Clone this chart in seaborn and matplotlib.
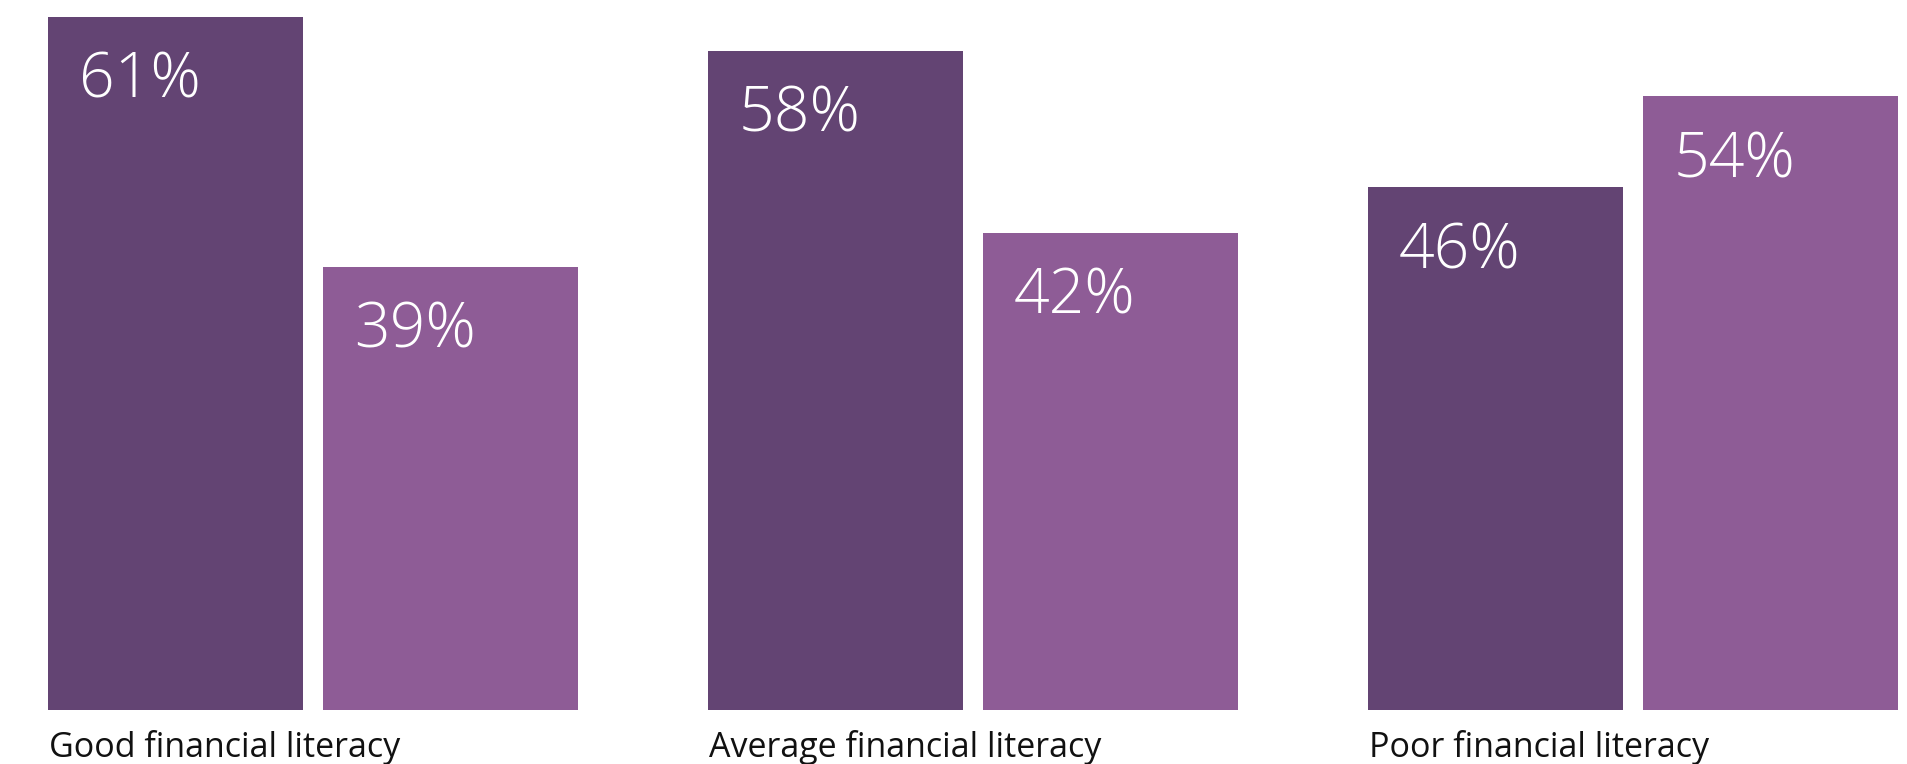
import matplotlib
matplotlib.use("Agg")
import matplotlib.pyplot as plt
import seaborn as sns
import pandas as pd

# Share of respondents by financial literacy level
categories = ["Good financial literacy", "Average financial literacy", "Poor financial literacy"]
groups = ["A", "B"]
values_a = [61, 58, 46]
values_b = [39, 42, 54]
palette = ["#634473", "#8E5C96"]

df = pd.DataFrame({
    "category": categories * 2,
    "group": [groups[0]] * 3 + [groups[1]] * 3,
    "value": values_a + values_b,
})

sns.set_theme(style="white")
plt.rcParams["font.family"] = ["Open Sans", "DejaVu Sans"]

fig = plt.figure(figsize=(19.07, 7.64), dpi=100)
ax = fig.add_axes([0, 54 / 764, 1, 710 / 764])

sns.barplot(data=df, x="category", y="value", hue="group", order=categories,
            hue_order=groups, palette=palette, width=0.833, gap=0.073,
            saturation=1, legend=False, ax=ax, linewidth=0, errorbar=None)

ax.set_xlim(-0.474, 2.415)
ax.set_ylim(0, 62.47)
ax.axis("off")

px = 72 / 100  # pixels to points
for container in ax.containers:
    for bar, val in zip(container, container.datavalues):
        ax.annotate(f"{val:.0f}%", xy=(bar.get_x(), bar.get_height()),
                    xytext=(31 * px, -33 * px), textcoords="offset points",
                    ha="left", va="top", color="white", fontsize=45,
                    fontweight="light")

for i, name in enumerate(categories):
    ax.annotate(name, xy=(i - 0.4015, 0), xycoords=("data", "axes fraction"),
                xytext=(1 * px, -47 * px), textcoords="offset points",
                ha="left", va="baseline", color="#111111", fontsize=24.5,
                annotation_clip=False)

fig.savefig("out.png", dpi=100)
